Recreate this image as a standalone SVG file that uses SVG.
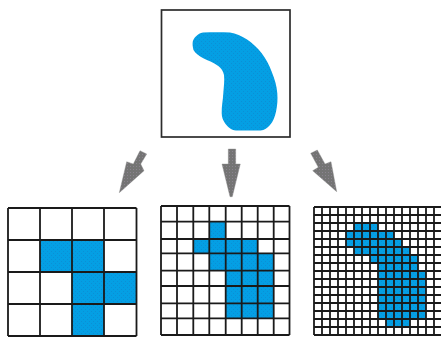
<svg xmlns="http://www.w3.org/2000/svg" width="441" height="337" viewBox="0 0 441 337">
  <style>
    .fill { fill: url(#stipple); }
    .frame { fill: #fff; stroke: #2c2c2c; stroke-width: 1.7; }
    .grid { fill: none; stroke: #1a1a1a; stroke-width: 1.8; }
    .arrow { fill: url(#hatch); stroke: #8a8a8a; stroke-width: 0.4; }
  </style>
  <defs>
    <pattern id="stipple" width="4" height="4" patternUnits="userSpaceOnUse">
      <rect width="4" height="4" fill="#049fe4"/>
      <rect x="1" y="1" width="1" height="1" fill="#0b8fd6"/>
      <rect x="3" y="3" width="1" height="1" fill="#0b8fd6"/>
    </pattern>
    <pattern id="hatch" width="3" height="3" patternUnits="userSpaceOnUse">
      <rect width="3" height="3" fill="#747474"/>
      <rect x="1" y="1" width="1" height="1" fill="#8b848f"/>
    </pattern>
  </defs>

  <g id="source">
    <rect class="frame" x="161.500" y="10" width="128.500" height="127"/>
    <path class="fill" d="M192.700 42 C193.500 38 197.500 33.500 203 32.500 C212 32 222 32 230 32.500 C236 33.500 241.500 36 246.700 39.300 C252.500 43 257.500 48 261.700 53.300 C265.800 59 269.300 65 271.700 71.700 C274.500 78.500 276.800 86 277.300 93.300 C277.800 100 277.300 106 276 111.700 C274.800 117 273.200 121.500 270 125 C267.500 128 264.500 130.300 260.500 130.500 L236 130.500 C231 130 227.500 127 225 123.300 C222.800 120 221.800 117 221.700 113.300 C221.500 106 223 100 223.300 93.300 C223.700 87 224.700 81 224 75 C223.300 71 221 68 218.300 66 C213 62.500 208 60.500 203.300 58.300 C199 56 195.500 53.500 193.500 50 C192.700 47 192.400 44.500 192.700 42 Z"/>
  </g>

  <g id="connectors">
    <polygon class="arrow" points="140,150.700 146.700,154 140.700,164 144,170.700 119.300,192.700 126.700,161.700 133.300,164"/>
    <polygon class="arrow" points="228.300,149 235.700,149 235.700,164 240.300,164 232.300,196.700 230,196.700 222,164 228.300,164"/>
    <polygon class="arrow" points="310.700,153.300 317.300,150 325,164 331,161.700 336.700,191.700 312.700,170.700 318.300,167.300"/>
  </g>

  <g id="grid-coarse">
    <rect x="8" y="208" width="129" height="128" fill="#fff"/>
    <path class="fill" d="M40 240H104V272H40Z M72 272H136V304H72Z M72 304H104V336H72Z"/>
    <path class="grid" d="M8 208V336 M40 208V336 M72 208V336 M104 208V336 M136.500 208V336 M8 208H136.500 M8 240H136.500 M8 272H136.500 M8 304H136.500 M8 336H136.500"/>
  </g>

  <g id="grid-medium">
    <rect x="161" y="206" width="129" height="129" fill="#fff"/>
    <path class="fill" d="M209.300 221.700H225.700V239H209.300Z M193.300 239H257.700V253.300H193.300Z M209.300 253.300H273.700V270.700H209.300Z M225.700 270.700H273.700V318.300H225.700Z"/>
    <path class="grid" d="M161 206V335 M177 206V335 M193.300 206V335 M209.300 206V335 M225.700 206V335 M241.700 206V335 M257.700 206V335 M273.700 206V335 M289.500 206V335 M161 206H289.500 M161 221.700H289.500 M161 239H289.500 M161 253.300H289.500 M161 270.700H289.500 M161 286H289.500 M161 303.300H289.500 M161 318.300H289.500 M161 335H289.500"/>
  </g>

  <g id="grid-fine">
    <rect x="314" y="207" width="127" height="128" fill="#fff"/>
    <path class="fill" d="M354 223H378V231H354Z M346 231H394V239H346Z M346 239H402V247H346Z M354 247H410V255H354Z M370 255H418V263H370Z M378 263H418V271H378Z M378 271H426V319H378Z M386 319H410V327H386Z"/>
    <path class="grid" d="M314 207V335 M322 207V335 M330 207V335 M338 207V335 M346 207V335 M354 207V335 M362 207V335 M370 207V335 M378 207V335 M386 207V335 M394 207V335 M402 207V335 M410 207V335 M418 207V335 M426 207V335 M434 207V335 M314 207H441 M314 215H441 M314 223H441 M314 231H441 M314 239H441 M314 247H441 M314 255H441 M314 263H441 M314 271H441 M314 279H441 M314 287H441 M314 295H441 M314 303H441 M314 311H441 M314 319H441 M314 327H441 M314 335H441"/>
  </g>
</svg>
